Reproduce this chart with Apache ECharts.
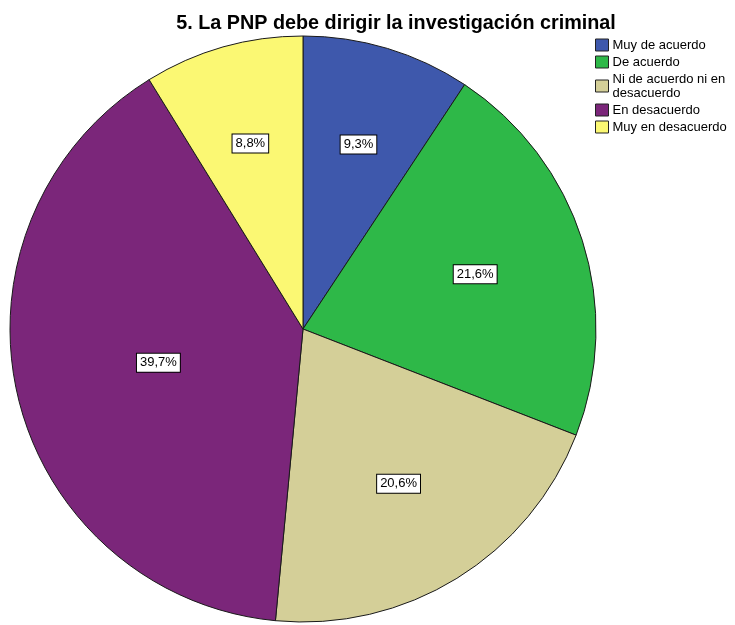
<!DOCTYPE html>
<html>
<head>
<meta charset="utf-8">
<script src="https://cdn.jsdelivr.net/npm/echarts@6/dist/echarts.min.js"></script>
<style>html,body{margin:0;padding:0;background:#fff;}#c{width:735px;height:625px;}</style>
</head>
<body>
<div id="c"></div>
<script>
const titleText = '5. La PNP debe dirigir la investigación criminal';
const categories = ['Muy de acuerdo', 'De acuerdo', 'Ni de acuerdo ni en desacuerdo', 'En desacuerdo', 'Muy en desacuerdo'];
const legendLabels = ['Muy de acuerdo', 'De acuerdo', 'Ni de acuerdo ni en\ndesacuerdo', 'En desacuerdo', 'Muy en desacuerdo'];
const values = [9.3, 21.6, 20.6, 39.7, 8.8];
const colors = ['#3E58AC', '#2EB848', '#D4CF98', '#7B267A', '#FBF873'];

const CENTER = [303, 329];
const R = 293;

const chart = echarts.init(document.getElementById('c'), null, {renderer: 'canvas'});
const fmt = v => v.toFixed(1).replace('.', ',') + '%';
const total = values.reduce((a, b) => a + b, 0);
const pieData = categories.map((n, i) => ({name: n, value: values[i], itemStyle: {color: colors[i]}}));

// label sits at the centroid of each sector (SPSS style); ECharts puts inside labels at r/2 + 3
function centroidDist(v) {
  const th = v / total * 2 * Math.PI;
  return 4 * R * Math.sin(th / 2) / (3 * th);
}
const labelSeries = categories.map((n, k) => ({
  type: 'pie', name: 'lbl' + k, silent: true,
  center: CENTER, radius: [0, 2 * (centroidDist(values[k]) - 3)],
  startAngle: 90, clockwise: true,
  data: categories.map((nm, i) => ({name: nm, value: values[i], label: {show: i === k}})),
  itemStyle: {color: 'rgba(0,0,0,0)', borderWidth: 0},
  label: {
    position: 'inside',
    formatter: p => fmt(p.value),
    fontFamily: 'Liberation Sans, Arial', fontSize: 13, color: '#000',
    backgroundColor: '#fff', borderColor: '#000', borderWidth: 1,
    padding: [3, 3, 2, 3]
  },
  labelLine: {show: false},
  emphasis: {disabled: true}
}));

chart.setOption({
  backgroundColor: '#ffffff',
  animation: false,
  title: {
    text: titleText,
    left: 391, top: 9, textAlign: 'center',
    textStyle: {fontFamily: 'Liberation Sans, Arial', fontWeight: 'bold', fontSize: 19.8, color: '#000'}
  },
  legend: {
    orient: 'vertical', left: 595, top: 38, padding: 0,
    data: categories,
    icon: 'rect', itemWidth: 13, itemHeight: 12, itemGap: 3,
    itemStyle: {borderColor: '#222', borderWidth: 1},
    formatter: name => legendLabels[categories.indexOf(name)],
    textStyle: {fontFamily: 'Liberation Sans, Arial', fontSize: 13, color: '#000', lineHeight: 14, padding: [0,0,0,-1]}
  },
  series: [
    {
      type: 'pie', name: 'main',
      center: CENTER, radius: [0, R],
      startAngle: 90, clockwise: true,
      data: pieData,
      itemStyle: {borderColor: '#1a1a1a', borderWidth: 1},
      label: {show: false}, labelLine: {show: false},
      emphasis: {disabled: true}
    }
  ].concat(labelSeries)
});
</script>
</body>
</html>
